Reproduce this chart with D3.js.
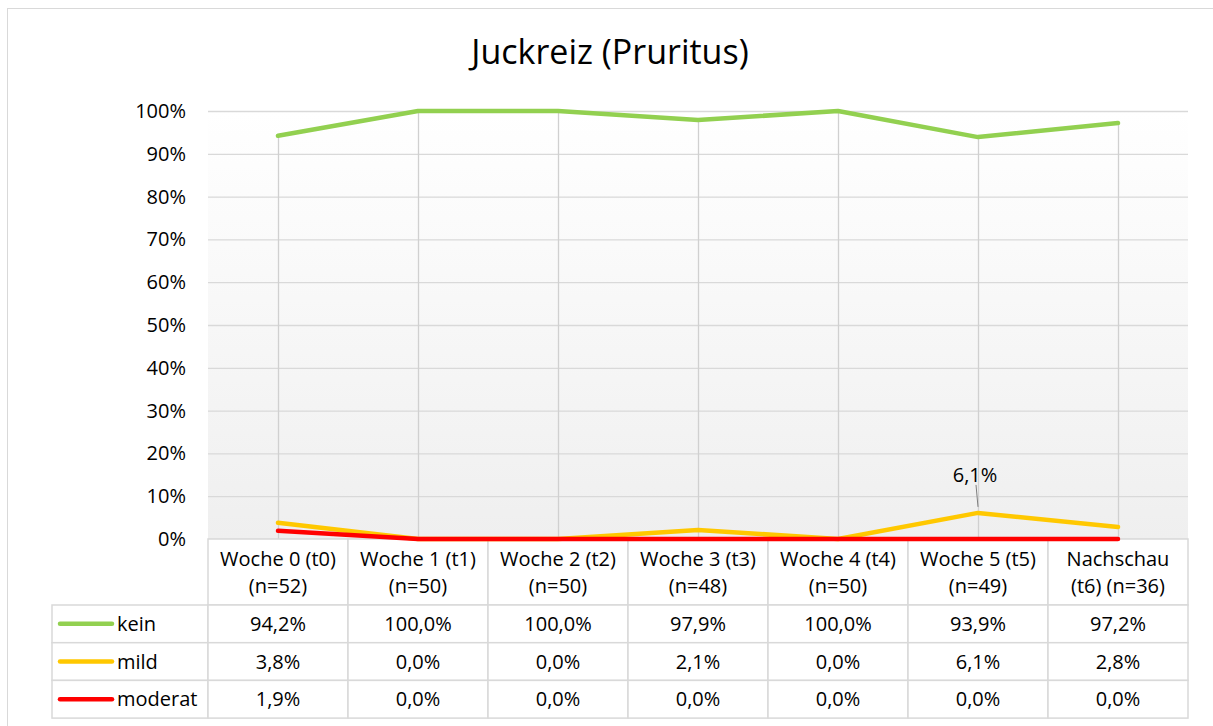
<!DOCTYPE html>
<html><head><meta charset="utf-8">
<script src="https://cdn.jsdelivr.net/npm/d3@7"></script>
<style>body{margin:0;background:#fff;} text{font-family:"Open Sans",sans-serif;}</style>
</head><body>
<svg id="c" width="1213" height="726"></svg>
<script>
const title = "Juckreiz (Pruritus)";
const categories = [["Woche 0 (t0)","(n=52)"],["Woche 1 (t1)","(n=50)"],["Woche 2 (t2)","(n=50)"],["Woche 3 (t3)","(n=48)"],["Woche 4 (t4)","(n=50)"],["Woche 5 (t5)","(n=49)"],["Nachschau","(t6) (n=36)"]];
const seriesNames = ["kein","mild","moderat"];
const seriesColors = ["#92d050","#ffc800","#ff0000"];
const kein = [94.2,100.0,100.0,97.9,100.0,93.9,97.2];
const mild = [3.8,0.0,0.0,2.1,0.0,6.1,2.8];
const moderat = [1.9,0.0,0.0,0.0,0.0,0.0,0.0];
const yTicks = [0,10,20,30,40,50,60,70,80,90,100];
const labelled = {series:1, index:5};

const series = [kein, mild, moderat];
const svg = d3.select("#c");
const L = 208, R = 1188, T = 111, B = 539;
const fmt = v => v.toFixed(1).replace(".", ",") + "%";
const FS = 20;

// outer border
svg.append("rect").attr("x",7.5).attr("y",8.5).attr("width",1230).attr("height",740)
  .attr("fill","#fff").attr("stroke","#d9d9d9").attr("stroke-width",1);

svg.append("text").attr("x",610).attr("y",64).attr("text-anchor","middle")
  .attr("font-size",34).attr("fill","#000").text(title);

const defs = svg.append("defs");
const g = defs.append("linearGradient").attr("id","bg").attr("x1",0).attr("y1",0).attr("x2",0).attr("y2",1);
g.append("stop").attr("offset","0%").attr("stop-color","#ffffff");
g.append("stop").attr("offset","100%").attr("stop-color","#efefef");

const x = d3.scaleBand().domain(d3.range(categories.length)).range([L,R]);
const y = d3.scaleLinear().domain([0,100]).range([B,T]);
const cx = i => x(i) + x.bandwidth()/2;

svg.append("rect").attr("x",L).attr("y",T).attr("width",R-L).attr("height",B-T).attr("fill","url(#bg)");

// gridlines
svg.append("g").selectAll("line").data(yTicks).join("line")
  .attr("x1",L).attr("x2",R).attr("y1",d=>y(d)+0.5).attr("y2",d=>y(d)+0.5)
  .attr("stroke","#d9d9d9").attr("stroke-width",1.3);

// y axis labels
const ya = svg.append("g").attr("transform",`translate(${L},0)`)
  .call(d3.axisLeft(y).tickValues(yTicks).tickFormat(d=>d+"%").tickSize(0).tickPadding(22));
ya.select(".domain").remove();
ya.selectAll("text").attr("font-size",FS).attr("fill","#000").attr("font-family","'Open Sans', sans-serif");

// drop lines
svg.append("g").selectAll("line").data(categories.map((c,i)=>i)).join("line")
  .attr("x1",i=>cx(i)+0.5).attr("x2",i=>cx(i)+0.5)
  .attr("y1",i=>y(d3.max(series,s=>s[i]))).attr("y2",B)
  .attr("stroke","#d0d0d0").attr("stroke-width",1.3);

// data table
const tl = 52, hdrB = 605, rowH = 37.7;
const tg = svg.append("g");
const tcol = "#d9d9d9";
tg.selectAll("rect.h").data(categories).join("rect").attr("class","h")
  .attr("x",(d,i)=>x(i)).attr("y",B).attr("width",x.bandwidth()).attr("height",hdrB-B)
  .attr("fill","#fff").attr("stroke",tcol).attr("stroke-width",1.5);
categories.forEach((c,i)=>{
  c.forEach((t,j)=>{
    tg.append("text").attr("x",cx(i)).attr("y",B+27+j*27).attr("text-anchor","middle")
      .attr("font-size",FS).attr("fill","#000").text(t);
  });
});
series.forEach((s,k)=>{
  const ry = hdrB + k*rowH;
  tg.append("rect").attr("x",tl).attr("y",ry).attr("width",L-tl).attr("height",rowH)
    .attr("fill","#fff").attr("stroke",tcol).attr("stroke-width",1.5);
  tg.append("line").attr("x1",60).attr("x2",112).attr("y1",ry+rowH/2).attr("y2",ry+rowH/2)
    .attr("stroke",seriesColors[k]).attr("stroke-width",4.5).attr("stroke-linecap","round");
  tg.append("text").attr("x",117).attr("y",ry+rowH/2+7).attr("font-size",FS).attr("fill","#000").text(seriesNames[k]);
  s.forEach((v,i)=>{
    tg.append("rect").attr("x",x(i)).attr("y",ry).attr("width",x.bandwidth()).attr("height",rowH)
      .attr("fill","#fff").attr("stroke",tcol).attr("stroke-width",1.5);
    tg.append("text").attr("x",cx(i)).attr("y",ry+rowH/2+7).attr("text-anchor","middle")
      .attr("font-size",FS).attr("fill","#000").text(fmt(v));
  });
});

// lines (on top of table so zero values stay visible)
const line = d3.line().x((d,i)=>cx(i)).y(d=>y(d));
series.forEach((s,k)=>{
  svg.append("path").datum(s).attr("d",line).attr("fill","none")
    .attr("stroke",seriesColors[k]).attr("stroke-width",4.5).attr("stroke-linecap","round").attr("stroke-linejoin","round");
});

// data label
{
  const v = series[labelled.series][labelled.index];
  const px = cx(labelled.index), py = y(v);
  svg.append("line").attr("x1",px-2).attr("y1",py-28).attr("x2",px).attr("y2",py-6)
    .attr("stroke","#7f7f7f").attr("stroke-width",1);
  svg.append("text").attr("x",px-3).attr("y",py-31).attr("text-anchor","middle")
    .attr("font-size",FS).attr("fill","#000").text(fmt(v));
}
</script>
</body></html>
